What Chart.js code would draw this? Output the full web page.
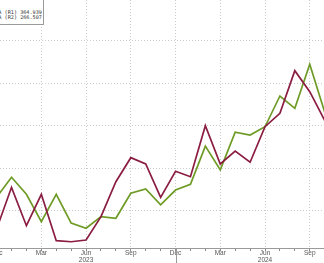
<!DOCTYPE html>
<html>
<head>
<meta charset="utf-8">
<script src="https://cdn.jsdelivr.net/npm/chart.js@4/dist/chart.umd.min.js"></script>
<style>
html,body{margin:0;padding:0;background:#fff;overflow:hidden;width:324px;height:263px;}
#wrap{position:absolute;left:-30px;top:0;width:380px;height:263px;}
#legend{position:absolute;left:-60px;top:-10px;width:104px;height:35px;background:#fff;border:1px solid #9a9a9a;
  font-family:"DejaVu Sans Mono",monospace;font-size:5.2px;line-height:5.4px;color:#333;text-align:right;padding-right:1px;box-sizing:border-box;z-index:5;white-space:nowrap;}
#legend div:first-child{margin-top:19px;}
</style>
</head>
<body>
<div id="wrap"><canvas id="c" width="380" height="263"></canvas></div>
<div id="legend"><div>A (R1) 364.939</div><div>A (R2) 266.507</div></div>
<script>
// Monthly observations, Dec 2022 .. Oct 2024
const categories = ["2022-12","2023-01","2023-02","2023-03","2023-04","2023-05","2023-06","2023-07","2023-08","2023-09","2023-10","2023-11","2023-12","2024-01","2024-02","2024-03","2024-04","2024-05","2024-06","2024-07","2024-08","2024-09","2024-10"];
const seriesR1 = [262.8,302.0,265.9,295.4,251.8,250.8,252.4,274.4,307.3,329.9,324.0,292.6,317.1,312.0,360.0,324.0,336.2,325.6,359.1,371.7,411.8,392.0,364.939];
const seriesR2 = [226.3,235.7,227.7,214.8,227.7,214.1,211.7,217.2,216.4,228.2,230.2,222.7,229.7,232.4,250.4,239.2,256.9,255.6,259.5,274.0,268.2,288.9,266.507];
const monthNames = ["Jan","Feb","Mar","Apr","May","Jun","Jul","Aug","Sep","Oct","Nov","Dec"];
const gridR1 = [280,320,360,400,440];

function monthOf(i){ // i = index into categories (may extend beyond)
  const y0 = 2022, m0 = 11;
  const t = m0 + i;
  return {m: ((t % 12) + 12) % 12, y: y0 + Math.floor(t / 12)};
}
const toPts = arr => arr.map((v,i)=>({x:i,y:v}));

const decLine = {
  id:'decLine',
  afterDraw(chart){
    const xs = chart.scales.x, ctx = chart.ctx;
    ctx.save();
    ctx.strokeStyle = '#9a9a9a'; ctx.lineWidth = 1;
    for (let i = Math.ceil(xs.min); i <= Math.floor(xs.max); i++) {
      if (monthOf(i).m === 11) {
        const px = Math.round(xs.getPixelForValue(i)) + 0.5;
        ctx.beginPath(); ctx.moveTo(px, chart.chartArea.bottom); ctx.lineTo(px, chart.height); ctx.stroke();
      }
    }
    ctx.restore();
  }
};

new Chart(document.getElementById('c'), {
  type:'line',
  data:{datasets:[
    {label:'R1', data:toPts(seriesR1), yAxisID:'y', borderColor:'#8a1d40', borderWidth:1.7, pointRadius:0, tension:0},
    {label:'R2', data:toPts(seriesR2), yAxisID:'y2', borderColor:'#6e9b26', borderWidth:1.7, pointRadius:0, tension:0}
  ]},
  options:{
    responsive:false, animation:false, devicePixelRatio:1,
    layout:{padding:0},
    plugins:{legend:{display:false}, tooltip:{enabled:false}},
    scales:{
      x:{type:'linear', min:-1.784, max:23.70,
        afterFit(s){ s.height = 15; },
        ticks:{stepSize:1, autoSkip:false, maxRotation:0, includeBounds:false, padding:-1,
          color:'#555', font:{family:'Liberation Sans, Arial, sans-serif', size:6.5, lineHeight:1},
          callback(v){
            if (!Number.isInteger(v)) return '';
            const mo = monthOf(v);
            if (mo.m % 3 !== 2) return '';
            const n = monthNames[mo.m];
            return mo.m === 5 ? [n, String(mo.y)] : n;
          }},
        grid:{drawOnChartArea:true, drawTicks:true, tickLength:3,
          color(ctx){ const v = ctx.tick && ctx.tick.value; return (Number.isInteger(v) && monthOf(v).m % 3 === 2) ? '#cccccc' : 'rgba(0,0,0,0)'; },
          tickColor:'#8a8a8a', lineWidth:1},
        border:{display:true, color:'#9a9a9a', width:1, dash:[1,2]}
      },
      y:{type:'linear', position:'left', min:244.9, max:478.3,
        afterFit(s){ s.width = 0; },
        afterBuildTicks(s){ s.ticks = gridR1.map(v=>({value:v})); },
        ticks:{display:false},
        grid:{color:'#cccccc', drawTicks:false, lineWidth:1},
        border:{display:false, dash:[1,2]}
      },
      y2:{type:'linear', position:'right', display:false, min:202.4, max:319.2}
    }
  },
  plugins:[decLine]
});
</script>
</body>
</html>
